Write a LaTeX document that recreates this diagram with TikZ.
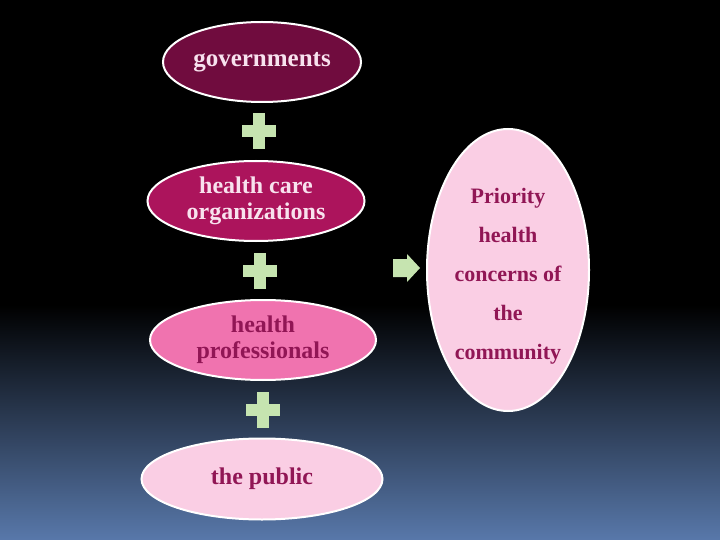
\documentclass[tikz,border=0pt]{standalone}
\usepackage{fontspec}
\setmainfont{Liberation Serif}
\usetikzlibrary{shapes.geometric,calc}

\definecolor{govred}{RGB}{112,12,62}
\definecolor{orgred}{RGB}{172,20,92}
\definecolor{prorose}{RGB}{240,115,175}
\definecolor{palerose}{RGB}{250,206,228}
\definecolor{darkrose}{RGB}{145,22,85}
\definecolor{lightrose}{RGB}{248,226,238}
\definecolor{plusgreen}{RGB}{198,228,176}
\definecolor{bgblue}{RGB}{88,120,170}

\begin{document}
\begin{tikzpicture}[x=1pt,y=-1pt,node distance=139pt,
  oval/.style={ellipse,draw=white,line width=2pt,inner sep=0pt,align=center,
    font=\bfseries\fontsize{24}{26}\selectfont},
  plussign/.pic={\fill[plusgreen] (-6,-18) rectangle (6,18);
    \fill[plusgreen] (-17,-6) rectangle (17,6);},
  arrowsign/.pic={\fill[plusgreen] (-13,-9) -- (1,-9) -- (1,-14) -- (14,0)
    -- (1,14) -- (1,9) -- (-13,9) -- cycle;}]
\useasboundingbox (0,0) rectangle (720,540);
\fill[black] (0,0) rectangle (720,540);
\shade[top color=black,bottom color=bgblue] (0,305) rectangle (720,540);

\node[oval,fill=govred,text=lightrose,minimum width=198pt,minimum height=80pt,
  font=\bfseries\fontsize{25}{28}\selectfont] (gov) at (262,62) {governments};
\node[oval,fill=orgred,text=lightrose,minimum width=217pt,minimum height=80pt]
  (org) [below of=gov,xshift=-6pt] {health care\\organizations};
\node[oval,fill=prorose,text=darkrose,minimum width=226pt,minimum height=80pt]
  (pro) [below of=org,xshift=7pt] {health\\professionals};
\node[oval,fill=palerose,text=darkrose,minimum width=241pt,minimum height=81pt]
  (pub) [below of=pro,xshift=-1pt] {the public};
\node[oval,fill=palerose,minimum width=162pt,minimum height=282pt,
  label={[text=darkrose,align=center,yshift=-6pt,
    font=\bfseries\fontsize{22}{39}\selectfont]center:
    Priority\\health\\concerns of\\the\\community}] (prio) at (508,270) {};

\pic at ($(gov)!0.5!(org)$) {plussign};
\pic at ($(org)!0.5!(pro)$) {plussign};
\pic at ($(pro)!0.5!(pub)$) {plussign};
\pic at (406,268) {arrowsign};
\end{tikzpicture}
\end{document}
